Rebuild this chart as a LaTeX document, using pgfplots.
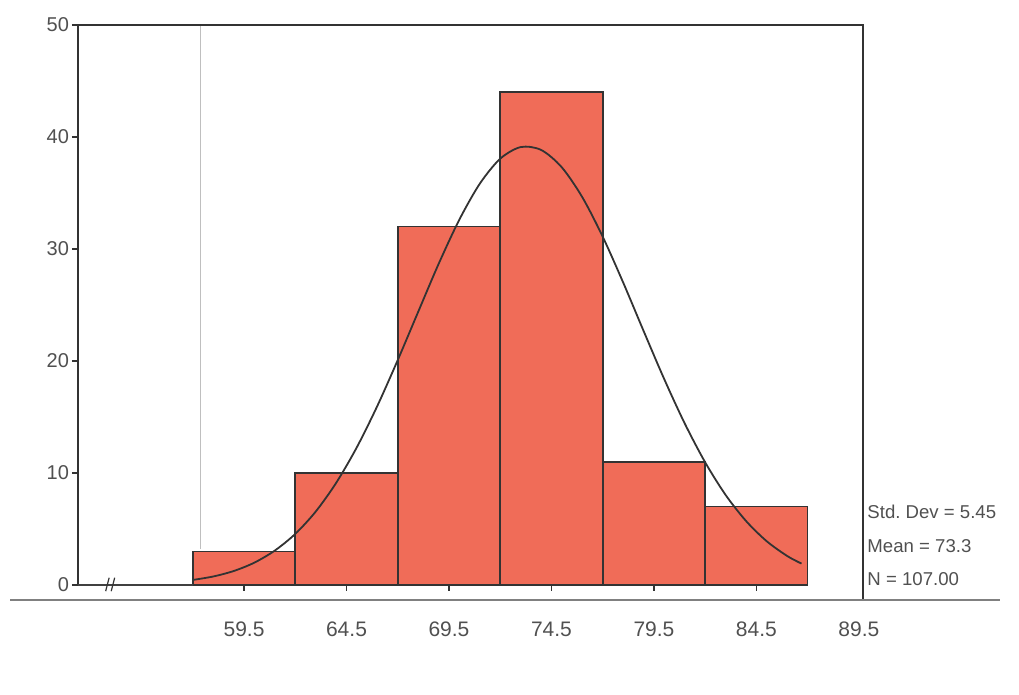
\documentclass[border=0pt]{standalone}
\usepackage{pgfplots}
\pgfplotsset{compat=1.18}
\usepackage{fontspec}
\setmainfont{Liberation Sans}
\definecolor{barred}{RGB}{240,108,88}
\definecolor{txt}{RGB}{80,80,80}
\begin{document}
\begin{tikzpicture}
\path[use as bounding box] (0,0) rectangle (509.5pt,347.5pt);
\begin{axis}[
  at={(39pt,55pt)}, anchor=south west,
  width=392.5pt, height=280pt, scale only axis,
  xmin=51.4, xmax=89.7, ymin=0, ymax=50,
  clip=false,
  axis line style={draw=none},
  xtick={59.5,64.5,69.5,74.5,79.5,84.5},
  xticklabels={59.5,64.5,69.5,74.5,79.5,84.5},
  extra x ticks={89.5},
  extra x tick labels={89.5},
  extra x tick style={tick style={draw=none}},
  ytick={0,10,20,30,40,50},
  yticklabels={0,10,20,30,40,50},
  xtick pos=bottom, ytick pos=left,
  tick align=outside, major tick length=3pt,
  tick style={color=black!80, line width=0.8pt},
  x tick label style={font=\fontsize{10.5}{12}\selectfont, text=txt, yshift=-12pt},
  y tick label style={font=\fontsize{10}{12}\selectfont, text=txt, xshift=2pt},
]
\addplot[ybar interval, fill=barred, draw=black!80, line width=0.8pt]
  coordinates {(57,3) (62,10) (67,32) (72,44) (77,11) (82,7) (87,7)};
\addplot[smooth, no marks, color=black!80, line width=0.9pt] coordinates {
  (57,0.45) (58,0.76) (59,1.25) (60,1.99) (61,3.07) (62,4.56) (63,6.56)
  (64,9.13) (65,12.28) (66,15.97) (67,20.08) (68,24.4) (69,28.69) (70,32.6)
  (71,35.82) (72,38.06) (73,39.1) (74,38.84) (75,37.3) (76,34.64) (77,31.1)
  (78,27.0) (79,22.66) (80,18.39) (81,14.43) (82,10.95) (83,8.03) (84,5.7)
  (85,3.91) (86,2.59) (86.7,1.91)};
\draw[black!25, line width=0.4pt] (axis cs:57.35,50) -- (axis cs:57.35,3.2);
\draw[black!80, line width=0.8pt] (axis cs:51.4,0) -- (axis cs:51.4,50) -- (axis cs:89.7,50) -- (axis cs:89.7,-1.34);
\draw[black!75, line width=0.7pt] (axis cs:51.4,0) -- (axis cs:57,0);
\draw[black!50, line width=0.6pt] (axis cs:48.1,-1.34) -- (axis cs:96.4,-1.34);
\draw[black!80, line width=0.6pt] (axis cs:52.75,-0.55) -- (axis cs:52.92,0.65);
\draw[black!80, line width=0.6pt] (axis cs:53.02,-0.55) -- (axis cs:53.19,0.65);
\node[anchor=west, inner sep=1pt, text=txt, font=\fontsize{9.3}{11}\selectfont] at (axis cs:89.8,6.5) {Std.\ Dev = 5.45};
\node[anchor=west, inner sep=1pt, text=txt, font=\fontsize{9.3}{11}\selectfont] at (axis cs:89.8,3.5) {Mean = 73.3};
\node[anchor=west, inner sep=1pt, text=txt, font=\fontsize{9.3}{11}\selectfont] at (axis cs:89.8,0.5) {N = 107.00};
\end{axis}
\end{tikzpicture}
\end{document}
